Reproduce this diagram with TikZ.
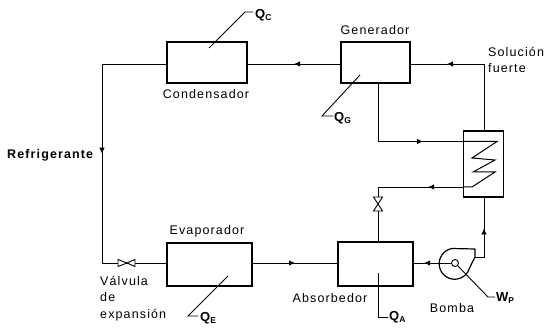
\documentclass[tikz,border=0pt]{standalone}
\usepackage{fontspec}
\setmainfont[LetterSpace=9]{Liberation Sans}
\usetikzlibrary{arrows.meta,decorations.markings}
\tikzset{
  pipe/.style={line width=0.8pt},
  flow/.style={pipe,postaction={decorate},decoration={markings,mark=at position #1 with {\arrow{Latex[length=6pt,width=5.5pt]}}}},
  unit/.style={draw,line width=1.4pt,inner sep=0pt},
  heatline/.style={line width=0.9pt},
  tag/.style={inner sep=0pt,font=\fontsize{12.5}{16.5}\selectfont},
  qtag/.style={inner sep=0pt,anchor=west,font=\fontsize{13}{14}\selectfont\bfseries},
  valvepart/.style={draw,line width=0.9pt,fill=white}
}
\newcommand{\qsub}[1]{\raisebox{-2.5pt}{\fontsize{8.5}{9}\selectfont #1}}
\begin{document}
\begin{tikzpicture}[x=1pt,y=-1pt]
  \useasboundingbox (0,0) rectangle (549,331);

  % Equipos
  \node[unit,minimum width=80pt,minimum height=41pt] (condensador) at (207,62.5) {};
  \node[unit,minimum width=69pt,minimum height=41pt] (generador) at (375.5,62.5) {};
  \node[unit,minimum width=85pt,minimum height=43pt] (evaporador) at (209.5,264.5) {};
  \node[unit,minimum width=75pt,minimum height=44pt] (absorbedor) at (375.5,264) {};
  \node[unit,minimum width=40pt,minimum height=66pt] (intercambiador) at (483.5,164) {};
  \node[circle,draw,line width=0.9pt,minimum size=7pt,inner sep=0pt] (eje) at (455,263) {};

  % Puntos de paso
  \coordinate (esq1) at (102,64);
  \coordinate (esq2) at (102,263);
  \coordinate (esq3) at (484,64);
  \coordinate (esq4) at (378,141.5);
  \coordinate (esq5) at (378,187);
  \coordinate (salida) at (475,257);
  \coordinate (esq6) at (484,257);
  \coordinate (ent) at (463,141.5);
  \coordinate (sal) at (463,187);

  % Circuito
  \draw[flow=0.5] (generador.west |- 0,64) -- (condensador.east |- 0,64);
  \draw[flow=0.47] (condensador.west |- 0,64) -- (esq1) -- (esq2) -- (evaporador.west |- 0,263);
  \draw[flow=0.5] (evaporador.east |- 0,263) -- (absorbedor.west |- 0,263);
  \draw[flow=0.74] (intercambiador.north -| esq3) -- (esq3) -- (generador.east |- 0,64);
  \draw[flow=0.72] (generador.south -| esq4) -- (esq4) -- (ent);
  \draw[flow=0.25] (sal) -- (esq5) -- (absorbedor.north -| esq5);
  \draw[flow=0.72] (eje) -- (absorbedor.east |- 0,263);
  \draw[flow=0.55] (salida) -- (esq6) -- (intercambiador.south -| esq6);

  % Valvulas
  \draw[valvepart] (118,259.5) -- (127,263) -- (118,266.5) -- cycle;
  \draw[valvepart] (135,259.5) -- (127,263) -- (135,266.5) -- cycle;
  \draw[valvepart] (373.5,197) -- (378,204) -- (382.5,197) -- cycle;
  \draw[valvepart] (373.5,211) -- (378,204) -- (382.5,211) -- cycle;

  % Serpentin
  \draw[pipe,line width=1pt] (ent) -- (497,141.5) -- (472,158) -- (495,160) -- (473,172) -- (495,172) -- (472,187) -- (sal);

  % Bomba
  \draw[line width=1.2pt,line join=round] (475,257) -- (475,249) -- (452,248.5)
    arc[start angle=100,end angle=345,radius=15.5pt] -- cycle;

  % Calor y trabajo
  \draw[heatline] (209,48) -- (245,12) -- (253,12);
  \draw[heatline] (360,75) -- (322,116) -- (333,116);
  \draw[heatline] (228,276) -- (188,316) -- (198,316);
  \draw[heatline] (378,273) -- (378,317) -- (388,317);
  \draw[heatline] (eje) -- (488,297) -- (495,297);

  % Rotulos
  \node[tag,anchor=base] (tcondensador) at (206,99) {Condensador};
  \node[tag,anchor=base] (tgenerador) at (375,35) {Generador};
  \node[tag,anchor=base] (tevaporador) at (207,235) {Evaporador};
  \node[tag,anchor=base] (tabsorbedor) at (330,302) {Absorbedor};
  \node[tag,anchor=base] (tbomba) at (452,312) {Bomba};
  \node[tag,anchor=base west,font=\fontsize{12.5}{14}\selectfont\bfseries] (trefrigerante) at (7,159) {Refrigerante};
  \node[tag,anchor=north west,align=left] (tsolucion) at (488,47) {Solución\\fuerte};
  \node[tag,anchor=north west,align=left] (tvalvula) at (100,276) {Válvula\\de\\expansión};
  \node[qtag] (qc) at (255,15) {Q\qsub{C}};
  \node[qtag] (qg) at (334,118) {Q\qsub{G}};
  \node[qtag] (qe) at (200,318) {Q\qsub{E}};
  \node[qtag] (qa) at (389,317) {Q\qsub{A}};
  \node[qtag] (wp) at (496,298) {W\qsub{P}};
\end{tikzpicture}
\end{document}
